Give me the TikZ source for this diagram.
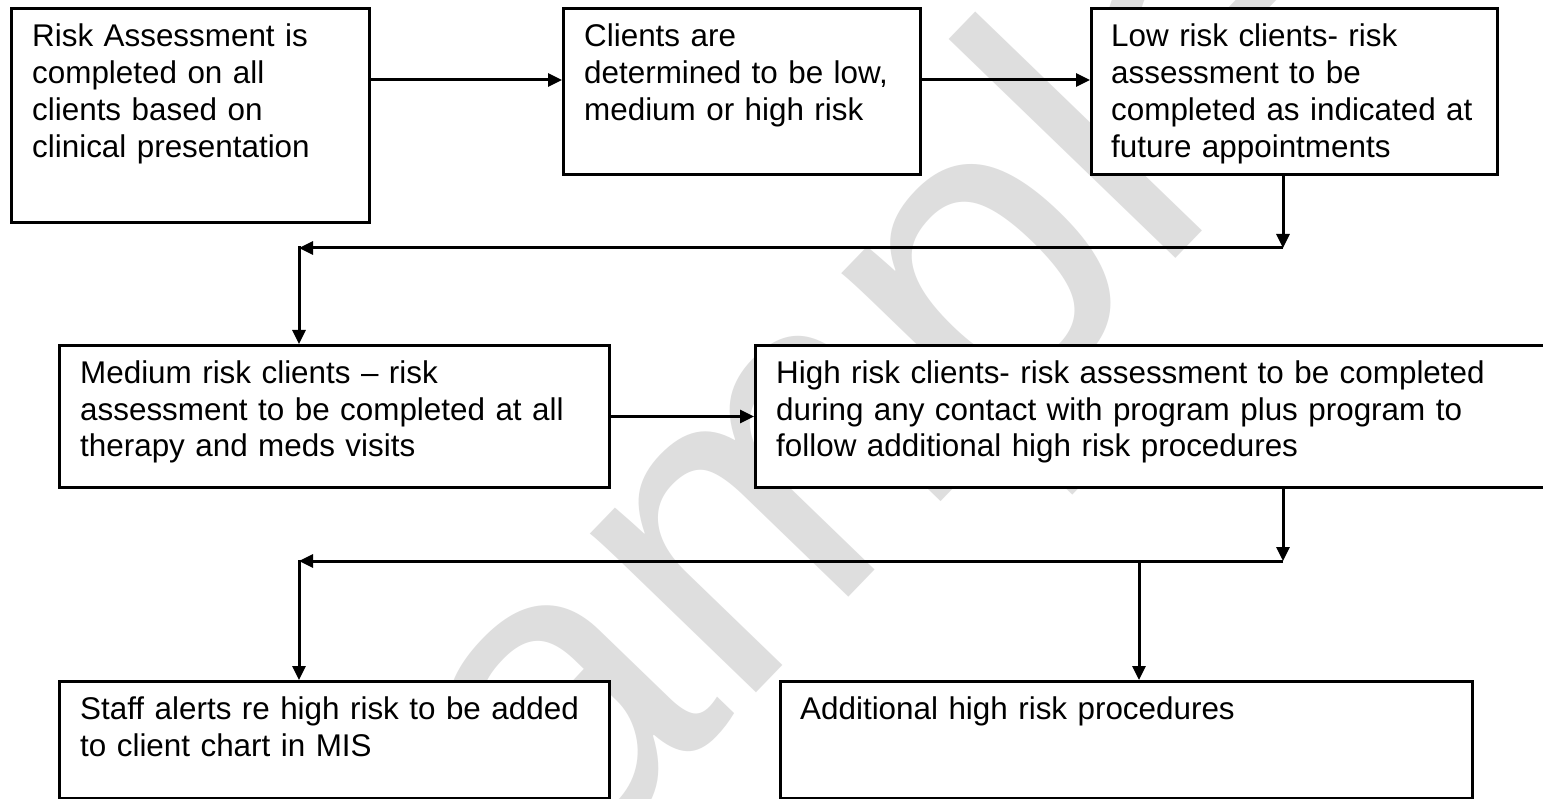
\documentclass[tikz,border=0pt]{standalone}
\usepackage{fontspec}
\setmainfont{Liberation Sans}
\usetikzlibrary{arrows.meta}
\definecolor{wm}{RGB}{222,222,222}
\begin{document}
\begin{tikzpicture}[x=1pt,y=-1pt,
  box/.style={draw=black, fill=white, line width=3pt, inner sep=0pt},
  txt/.style={anchor=base west, inner sep=0pt, align=left, text width=#1,
    font=\fontsize{31.4}{36.8}\selectfont},
  arr/.style={line width=3pt, -{Triangle[length=14pt,width=13pt]}}]
\clip (0,0) rectangle (1543,799);
\fill[white] (0,0) rectangle (1543,799);
% watermark
\node[anchor=base west, inner sep=0pt, rotate=46, text=wm,
  font=\fontsize{435}{435}\selectfont] (wmk) at (366,1097) {Sample};
% boxes
\node[box, minimum width=358pt, minimum height=214pt] (A) at (190.5,115.5) {};
\node[box, minimum width=357pt, minimum height=166pt] (B) at (742,91.5) {};
\node[box, minimum width=406pt, minimum height=166pt] (C) at (1294.5,91.5) {};
\node[box, minimum width=550pt, minimum height=142pt] (D) at (334.5,416.5) {};
\node[box, minimum width=803pt, minimum height=142pt] (E) at (1157,416.5) {};
\node[box, minimum width=550pt, minimum height=117pt] (F) at (334.5,740) {};
\node[box, minimum width=692pt, minimum height=117pt] (G) at (1126.5,740) {};
% texts
\node[txt=330pt] (At) at (32,46.7) {Risk Assessment is\\completed on all\\clients based on\\clinical presentation};
\node[txt=330pt] (Bt) at (584,46.7) {Clients are\\determined to be low,\\medium or high risk};
\node[txt=380pt] (Ct) at (1111,46.7) {Low risk clients- risk\\assessment to be\\completed as indicated at\\future appointments};
\node[txt=520pt] (Dt) at (80,383.3) {Medium risk clients – risk\\assessment to be completed at all\\therapy and meds visits};
\node[txt=760pt] (Et) at (776,383.3) {High risk clients- risk assessment to be completed\\during any contact with program plus program to\\follow additional high risk procedures};
\node[txt=520pt] (Ft) at (80,719.5) {Staff alerts re high risk to be added\\to client chart in MIS};
\node[txt=660pt] (Gt) at (800,719.5) {Additional high risk procedures};
% connectors
\coordinate (r1) at (0,80);
\coordinate (j1) at (1283,248);
\coordinate (k1) at (299,248);
\coordinate (j2) at (1283,561);
\coordinate (k2) at (299,561);
\coordinate (m2) at (1139,561);
\draw[arr] (A.east |- r1) -- (B.west |- r1);
\draw[arr] (B.east |- r1) -- (C.west |- r1);
\draw[arr] (C.south -| j1) -- (j1);
\draw[arr] (j1) -- (k1);
\draw[arr] ([yshift=1.5pt]k1) -- (k1 |- D.north);
\draw[arr] (D.east) -- (E.west);
\draw[arr] (E.south -| j2) -- (j2);
\draw[arr] (j2) -- (k2);
\draw[arr] ([yshift=1.5pt]k2) -- (k2 |- F.north);
\draw[arr] (m2) -- (m2 |- G.north);
\end{tikzpicture}
\end{document}
